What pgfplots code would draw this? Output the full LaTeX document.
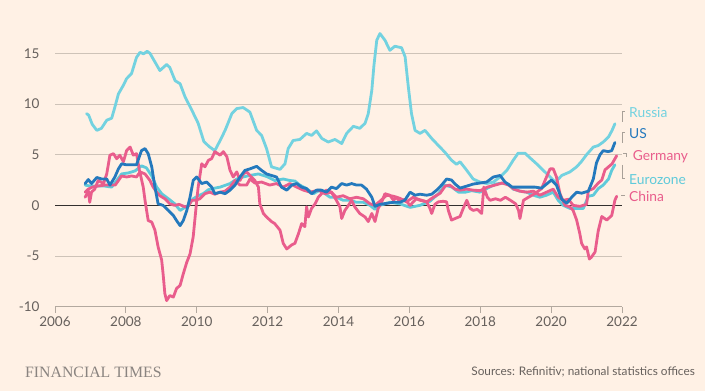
\documentclass[border=0pt]{standalone}
\usepackage{fontspec}
\setmainfont{Lato}
\newfontfamily\ftserif{Liberation Serif}
\usepackage{pgfplots}
\pgfplotsset{compat=1.18}
\definecolor{bgc}{HTML}{FFF1E5}
\definecolor{gridc}{HTML}{CEC3B8}
\definecolor{axisc}{HTML}{B3A99F}
\definecolor{tickc}{HTML}{66605C}
\definecolor{zeroc}{HTML}{33302E}
\definecolor{russia}{HTML}{73D2E0}
\definecolor{euro}{HTML}{5FCADA}
\definecolor{usc}{HTML}{2479BD}
\definecolor{pinkc}{HTML}{E95D8C}
\definecolor{brk}{HTML}{A8A098}
\definecolor{ftgrey}{HTML}{8A8480}
\begin{document}
\begin{tikzpicture}[x=1pt,y=1pt]
\fill[bgc] (0,0) rectangle (705,391);
\useasboundingbox (0,0) rectangle (705,391);
\begin{axis}[
  at={(55pt,84.3pt)}, anchor=south west,
  scale only axis, width=567pt, height=278.7pt,
  xmin=2006, xmax=2022, ymin=-10, ymax=17.5,
  clip=false,
  axis x line*=bottom, axis y line*=left,
  y axis line style={draw=none},
  x axis line style={draw=axisc, line width=0.9pt},
  xtick={2006,2008,...,2022},
  ytick={-10,-5,0,5,10,15},
  ymajorgrids, grid style={draw=gridc, line width=0.8pt},
  tick align=outside,
  major tick length=6pt,
  xtick style={draw=axisc, line width=0.8pt},
  ytick style={draw=none},
  /pgf/number format/assume math mode=true,
  /pgf/number format/1000 sep={},
  ticklabel style={font=\fontsize{13.5}{14}\selectfont, text=tickc},
  yticklabel style={xshift=-6pt},
  every axis plot/.append style={line width=2.8pt, line join=round, line cap=round},
]
\draw[zeroc, line width=1.1pt] (axis cs:2006,0) -- (axis cs:2022,0);
% Russia
\addplot[russia] coordinates {
(2006.89,9.05)(2006.95,8.9)(2007.05,8.0)(2007.18,7.4)(2007.31,7.6)(2007.46,8.4)(2007.6,8.6)(2007.69,9.7)(2007.79,11.0)(2007.93,11.85)(2008.02,12.5)(2008.16,13.0)(2008.3,14.6)(2008.4,15.1)(2008.5,14.95)(2008.6,15.2)(2008.68,15.0)(2008.82,14.15)(2008.96,13.3)(2009.15,13.9)(2009.24,13.6)(2009.39,12.3)(2009.53,12.0)(2009.67,10.7)(2009.86,9.4)(2010.04,8.1)(2010.2,6.3)(2010.35,5.8)(2010.51,5.4)(2010.66,6.4)(2010.8,7.4)(2010.99,9.05)(2011.13,9.55)(2011.31,9.65)(2011.5,9.2)(2011.69,7.4)(2011.83,6.9)(2011.97,5.6)(2012.11,3.8)(2012.35,3.55)(2012.49,4.1)(2012.58,5.6)(2012.72,6.4)(2012.91,6.5)(2013.1,7.1)(2013.24,6.9)(2013.38,7.35)(2013.53,6.6)(2013.71,6.25)(2013.9,6.5)(2014.09,6.1)(2014.23,7.1)(2014.42,7.8)(2014.6,7.6)(2014.75,8.1)(2014.84,9.05)(2014.94,11.35)(2015.0,13.8)(2015.08,16.3)(2015.17,16.95)(2015.31,16.3)(2015.45,15.3)(2015.59,15.7)(2015.78,15.55)(2015.88,14.65)(2015.97,11.7)(2016.06,9.05)(2016.16,7.4)(2016.3,7.1)(2016.44,7.4)(2016.63,6.6)(2016.82,5.9)(2017.0,5.25)(2017.19,4.45)(2017.33,4.05)(2017.43,4.3)(2017.62,3.45)(2017.8,2.6)(2017.99,2.3)(2018.18,2.15)(2018.37,2.3)(2018.56,2.8)(2018.75,3.45)(2018.93,4.45)(2019.07,5.15)(2019.26,5.15)(2019.4,4.7)(2019.59,4.1)(2019.78,3.45)(2019.97,2.8)(2020.12,2.3)(2020.3,2.95)(2020.53,3.3)(2020.72,3.8)(2020.85,4.3)(2021.0,5.0)(2021.19,5.75)(2021.33,5.9)(2021.47,6.25)(2021.62,6.75)(2021.72,7.4)(2021.8,8.05)
};
% Eurozone
\addplot[euro] coordinates {
(2006.85,2.0)(2007.0,1.9)(2007.13,1.9)(2007.41,1.9)(2007.6,1.8)(2007.74,2.45)(2007.88,3.1)(2008.07,3.2)(2008.26,3.4)(2008.44,3.9)(2008.58,3.7)(2008.73,2.9)(2008.87,1.8)(2009.01,1.15)(2009.2,0.65)(2009.38,0.15)(2009.53,-0.5)(2009.62,-0.3)(2009.76,0.0)(2009.9,0.65)(2010.04,0.95)(2010.18,1.15)(2010.33,1.55)(2010.51,1.7)(2010.66,1.8)(2010.94,2.15)(2011.13,2.6)(2011.31,2.8)(2011.5,2.95)(2011.74,3.1)(2011.97,2.85)(2012.2,2.45)(2012.44,2.6)(2012.63,2.45)(2012.77,2.4)(2012.91,2.0)(2013.1,1.65)(2013.29,1.15)(2013.48,1.5)(2013.62,1.15)(2013.76,0.8)(2013.94,0.8)(2014.13,0.5)(2014.32,0.5)(2014.51,0.3)(2014.7,0.3)(2014.89,0.0)(2015.03,-0.4)(2015.17,0.0)(2015.45,0.3)(2015.73,0.15)(2016.02,-0.2)(2016.3,0.0)(2016.58,0.4)(2016.82,1.15)(2017.0,2.0)(2017.2,1.8)(2017.39,1.3)(2017.58,1.3)(2017.76,1.45)(2017.99,1.3)(2018.18,1.65)(2018.43,2.1)(2018.62,2.2)(2018.8,2.1)(2018.93,1.6)(2019.12,1.4)(2019.31,1.3)(2019.5,1.0)(2019.68,0.8)(2019.87,1.0)(2020.06,1.3)(2020.2,0.5)(2020.34,0.0)(2020.53,-0.3)(2020.72,-0.3)(2020.91,-0.3)(2021.05,0.9)(2021.19,1.0)(2021.33,1.65)(2021.47,2.0)(2021.62,2.6)(2021.71,3.45)(2021.8,4.0)
};
% Germany
\addplot[pinkc] coordinates {
(2006.85,1.3)(2006.94,1.6)(2007.05,1.8)(2007.2,1.9)(2007.4,2.0)(2007.55,2.0)(2007.7,2.0)(2007.88,2.9)(2008.02,2.8)(2008.16,2.9)(2008.3,2.8)(2008.4,3.3)(2008.54,3.1)(2008.68,2.45)(2008.77,1.8)(2008.87,1.3)(2008.96,0.95)(2009.1,0.65)(2009.24,0.15)(2009.38,0.0)(2009.5,0.1)(2009.67,-0.15)(2009.76,-0.1)(2009.86,0.5)(2009.96,0.5)(2010.09,0.65)(2010.23,1.15)(2010.37,1.3)(2010.51,1.1)(2010.66,1.3)(2010.8,1.4)(2010.94,1.8)(2011.08,2.45)(2011.22,2.0)(2011.41,2.0)(2011.5,2.6)(2011.64,2.2)(2011.83,2.3)(2012.06,2.0)(2012.25,2.15)(2012.44,1.8)(2012.63,2.15)(2012.82,1.8)(2013.01,1.5)(2013.2,1.3)(2013.43,1.5)(2013.62,1.15)(2013.8,1.3)(2013.94,0.8)(2014.13,0.95)(2014.32,0.65)(2014.51,0.8)(2014.7,0.65)(2014.89,0.15)(2015.03,0.0)(2015.2,0.5)(2015.36,1.0)(2015.55,0.9)(2015.73,0.7)(2015.92,0.35)(2016.11,0.8)(2016.3,0.5)(2016.49,0.35)(2016.68,0.8)(2016.87,1.2)(2017.01,1.9)(2017.14,2.0)(2017.29,1.6)(2017.43,1.5)(2017.62,1.6)(2017.8,1.5)(2018.0,1.45)(2018.2,1.8)(2018.42,2.0)(2018.62,2.2)(2018.8,2.0)(2018.95,1.6)(2019.12,1.4)(2019.31,1.3)(2019.5,1.4)(2019.68,1.0)(2019.87,1.3)(2020.06,1.6)(2020.2,0.8)(2020.34,0.5)(2020.49,0.6)(2020.62,0.0)(2020.81,-0.1)(2021.0,0.1)(2021.05,1.45)(2021.19,1.65)(2021.33,2.2)(2021.43,2.5)(2021.52,3.5)(2021.62,3.8)(2021.72,4.1)(2021.85,4.9)
};
% China
\addplot[pinkc] coordinates {
(2006.85,0.8)(2006.94,1.45)(2006.98,0.3)(2007.03,1.3)(2007.12,1.6)(2007.22,2.45)(2007.37,2.15)(2007.46,3.1)(2007.55,4.95)(2007.65,5.1)(2007.74,4.6)(2007.83,4.95)(2007.93,4.3)(2008.02,5.4)(2008.12,5.75)(2008.21,4.95)(2008.3,5.1)(2008.38,3.5)(2008.49,1.8)(2008.54,0.5)(2008.63,-1.5)(2008.73,-1.65)(2008.82,-2.45)(2008.91,-4.1)(2009.01,-5.4)(2009.05,-6.75)(2009.1,-8.7)(2009.15,-9.4)(2009.24,-8.9)(2009.34,-9.05)(2009.43,-8.2)(2009.53,-7.9)(2009.62,-6.75)(2009.72,-5.6)(2009.81,-4.8)(2009.9,-3.1)(2010.0,0.5)(2010.04,1.8)(2010.14,4.1)(2010.23,3.8)(2010.33,4.45)(2010.42,4.6)(2010.51,5.3)(2010.66,4.95)(2010.75,5.3)(2010.85,4.8)(2010.94,3.45)(2011.03,2.8)(2011.13,3.3)(2011.22,2.45)(2011.31,3.1)(2011.41,3.3)(2011.5,2.95)(2011.64,2.45)(2011.74,1.8)(2011.78,0.15)(2011.88,-0.8)(2011.97,-1.15)(2012.11,-1.6)(2012.2,-1.8)(2012.35,-2.45)(2012.44,-3.75)(2012.54,-4.3)(2012.68,-3.9)(2012.77,-3.75)(2012.87,-2.8)(2012.96,-1.8)(2013.05,-2.1)(2013.1,-0.15)(2013.15,-1.15)(2013.24,-0.3)(2013.34,0.15)(2013.43,0.8)(2013.52,1.15)(2013.66,1.5)(2013.8,1.3)(2013.94,0.5)(2014.04,-0.15)(2014.09,-1.3)(2014.18,-0.5)(2014.28,0.0)(2014.37,0.5)(2014.46,-0.15)(2014.6,-0.8)(2014.75,-1.15)(2014.84,-1.6)(2014.94,-0.8)(2015.03,-1.6)(2015.12,-0.3)(2015.22,0.35)(2015.31,1.15)(2015.45,1.0)(2015.55,0.5)(2015.64,0.8)(2015.73,0.35)(2015.87,0.6)(2016.02,0.0)(2016.11,0.35)(2016.2,0.65)(2016.35,0.5)(2016.49,0.35)(2016.58,-0.3)(2016.63,-0.8)(2016.72,0.1)(2016.82,0.35)(2016.95,0.4)(2017.05,0.35)(2017.1,-0.5)(2017.19,-1.45)(2017.29,-1.3)(2017.43,-1.1)(2017.52,-0.3)(2017.62,0.5)(2017.71,-0.3)(2017.8,-0.5)(2017.92,-0.4)(2018.04,-0.8)(2018.1,1.8)(2018.2,0.8)(2018.28,0.5)(2018.43,0.65)(2018.57,0.5)(2018.71,0.8)(2018.85,0.5)(2019.0,0.15)(2019.08,-0.5)(2019.12,-1.3)(2019.22,0.5)(2019.36,0.8)(2019.54,1.15)(2019.73,1.65)(2019.87,2.8)(2019.97,3.6)(2020.06,3.6)(2020.15,2.8)(2020.25,1.15)(2020.39,0.0)(2020.53,-0.15)(2020.62,-0.5)(2020.72,-1.45)(2020.81,-2.8)(2020.86,-3.75)(2020.95,-4.3)(2021.0,-4.1)(2021.08,-5.3)(2021.14,-5.1)(2021.24,-4.6)(2021.33,-2.5)(2021.43,-1.1)(2021.57,-1.45)(2021.71,-1.0)(2021.8,0.5)(2021.85,0.9)
};
% US
\addplot[usc] coordinates {
(2006.85,2.15)(2006.94,2.55)(2007.03,2.15)(2007.18,2.75)(2007.32,2.6)(2007.46,2.6)(2007.55,2.0)(2007.69,2.8)(2007.79,3.6)(2007.88,4.1)(2008.02,4.0)(2008.16,4.0)(2008.3,4.0)(2008.44,5.4)(2008.54,5.6)(2008.63,5.1)(2008.73,3.8)(2008.82,1.8)(2008.91,0.15)(2009.05,0.0)(2009.2,-0.5)(2009.34,-1.0)(2009.43,-1.5)(2009.53,-2.0)(2009.62,-1.5)(2009.72,-0.5)(2009.81,0.8)(2009.9,2.45)(2010.0,2.8)(2010.14,2.15)(2010.28,2.3)(2010.42,1.8)(2010.51,1.15)(2010.66,1.3)(2010.8,1.15)(2010.94,1.5)(2011.08,2.0)(2011.22,2.8)(2011.36,3.45)(2011.5,3.6)(2011.69,3.85)(2011.83,3.45)(2011.97,3.1)(2012.11,2.95)(2012.25,2.8)(2012.39,1.8)(2012.54,1.5)(2012.68,2.0)(2012.82,2.15)(2012.96,1.8)(2013.1,1.65)(2013.24,1.15)(2013.38,1.5)(2013.52,1.5)(2013.66,1.3)(2013.8,1.8)(2013.94,1.65)(2014.09,2.15)(2014.23,2.0)(2014.37,2.15)(2014.51,2.0)(2014.65,2.0)(2014.79,1.6)(2014.94,0.8)(2015.03,-0.1)(2015.17,0.1)(2015.36,0.2)(2015.55,0.3)(2015.73,0.3)(2015.87,0.5)(2016.02,1.3)(2016.16,1.0)(2016.3,1.1)(2016.49,1.0)(2016.63,1.1)(2016.77,1.5)(2016.91,2.0)(2017.05,2.6)(2017.19,2.5)(2017.29,2.1)(2017.43,1.7)(2017.62,1.9)(2017.8,2.1)(2017.99,2.2)(2018.18,2.3)(2018.37,2.8)(2018.56,2.95)(2018.7,2.3)(2018.9,1.8)(2019.12,1.8)(2019.31,1.8)(2019.54,1.8)(2019.73,1.7)(2019.87,2.1)(2020.01,2.5)(2020.15,2.0)(2020.3,0.6)(2020.44,0.2)(2020.58,0.8)(2020.72,1.3)(2020.86,1.2)(2021.05,1.4)(2021.19,2.6)(2021.28,4.2)(2021.38,5.0)(2021.47,5.4)(2021.61,5.3)(2021.71,5.4)(2021.8,6.2)
};
\end{axis}
% brackets
\draw[brk, line width=0.8pt] (624.5,279.3) -- (622.3,279.3) -- (622.3,269.3);
\draw[brk, line width=0.8pt] (624.5,258.3) -- (622.3,258.3) -- (622.3,247.7);
\draw[brk, line width=0.8pt] (623.3,237.7) -- (626,237.7) -- (626,234.3);
\draw[brk, line width=0.8pt] (622.3,226) -- (622.3,212.7) -- (625,212.7);
\draw[brk, line width=0.8pt] (621,196) -- (624.5,196);
% labels
\begin{scope}[every node/.style={anchor=west, inner sep=0pt, font=\fontsize{13.8}{14}\selectfont}]
\node[text=russia] at (629,278.3) {Russia};
\node[text=usc] at (629,257) {US};
\node[text=pinkc] at (632.7,234.3) {Germany};
\node[text=euro] at (629,211) {Eurozone};
\node[text=pinkc] at (629,195) {China};
\end{scope}
\node[anchor=west, inner sep=0pt, text=ftgrey, font=\ftserif\fontsize{15.8}{16}\selectfont] at (25,19) {FINANCIAL TIMES};
\node[anchor=east, inner sep=0pt, text=tickc, font=\fontsize{11.8}{12}\selectfont] at (695,19) {Sources: Refinitiv; national statistics offices};
\end{tikzpicture}
\end{document}
